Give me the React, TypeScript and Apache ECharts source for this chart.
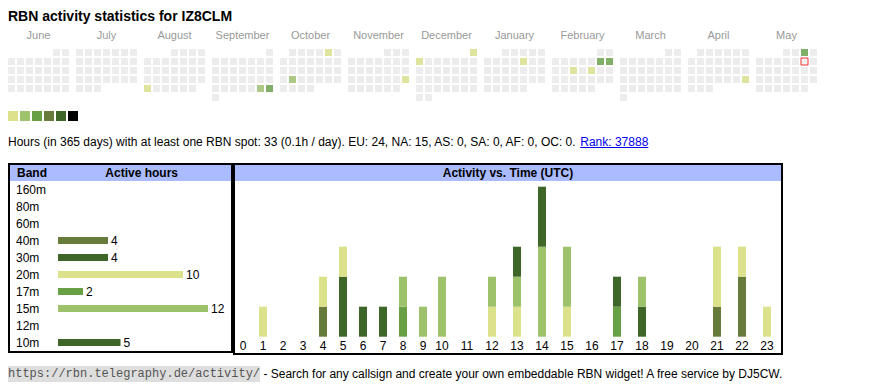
import React, { useEffect, useRef } from "react";
import * as echarts from "echarts";

const FONT = "'Liberation Sans', Arial, Helvetica, sans-serif";
const MONO = "'Liberation Mono', 'Courier New', monospace";

// ---------- calendar ----------
const CALLSIGN = "IZ8CLM";
const MONTH_RANGES = ["2024-06", "2024-07", "2024-08", "2024-09", "2024-10", "2024-11", "2024-12", "2025-01", "2025-02", "2025-03", "2025-04", "2025-05"];
const MONTH_NAMES = ["June", "July", "August", "September", "October", "November", "December", "January", "February", "March", "April", "May"];
const LEVELS = [1, 2, 3, 4, 5, 6];
const LEVEL_COLORS = ["#dbe28b", "#9ec16b", "#68a046", "#677b3b", "#3d6628", "#000000"];
const ACTIVE_DAYS: [string, number][] = [
  ["2024-08-26", 1],
  ["2024-09-28", 2],
  ["2024-09-29", 3],
  ["2024-10-05", 1],
  ["2024-10-22", 2],
  ["2024-11-24", 1],
  ["2024-12-01", 1],
  ["2024-12-02", 1],
  ["2025-01-10", 1],
  ["2025-02-08", 3],
  ["2025-02-09", 3],
  ["2025-02-12", 1],
  ["2025-02-14", 1],
  ["2025-04-27", 1],
  ["2025-05-03", 3],
];
const TODAY = "2025-05-10";

// ---------- summary ----------
const TOTAL_DAYS = 365;
const ACTIVE_HOURS = 33;
const HOURS_PER_DAY = "0.1";
const CONTINENTS = ["EU", "NA", "AS", "SA", "AF", "OC"];
const CONTINENT_HOURS = [24, 15, 0, 0, 0, 0];
const RANK = 37888;

// ---------- bands ----------
const BANDS = ["160m", "80m", "60m", "40m", "30m", "20m", "17m", "15m", "12m", "10m"];
const BAND_HOURS = [0, 0, 0, 4, 4, 10, 2, 12, 0, 5];
const BAND_COLORS = ["#8c564b", "#e377c2", "#7f7f7f", "#677b3b", "#3d6628", "#dbe28b", "#68a046", "#9ec16b", "#bcbd22", "#3d6628"];

// ---------- activity vs time ----------
const HOUR_LABELS = ["0", "1", "2", "3", "4", "5", "6", "7", "8", "9", "10", "11", "12", "13", "14", "15", "16", "17", "18", "19", "20", "21", "22", "23"];
const STACK_BANDS = ["40m", "30m", "20m", "17m", "15m", "10m"];
const H_40M = [0, 0, 0, 0, 1, 0, 0, 0, 0, 0, 0, 0, 0, 0, 0, 0, 0, 0, 0, 0, 0, 1, 2, 0];
const H_30M = [0, 0, 0, 0, 0, 2, 1, 0, 0, 0, 0, 0, 0, 0, 0, 0, 0, 0, 1, 0, 0, 0, 0, 0];
const H_20M = [0, 1, 0, 0, 1, 1, 0, 0, 0, 0, 0, 0, 1, 1, 0, 1, 0, 0, 0, 0, 0, 2, 1, 1];
const H_17M = [0, 0, 0, 0, 0, 0, 0, 0, 1, 0, 0, 0, 0, 0, 0, 0, 0, 1, 0, 0, 0, 0, 0, 0];
const H_15M = [0, 0, 0, 0, 0, 0, 0, 0, 1, 1, 2, 0, 1, 1, 3, 2, 0, 0, 1, 0, 0, 0, 0, 0];
const H_10M = [0, 0, 0, 0, 0, 0, 0, 1, 0, 0, 0, 0, 0, 1, 2, 0, 0, 1, 0, 0, 0, 0, 0, 0];
const HOURLY = [H_40M, H_30M, H_20M, H_17M, H_15M, H_10M];
const NARROW_HOURS = 10; // one-digit hours take narrower table columns

const URL_TEXT = "https://rbn.telegraphy.de/activity/";
const FOOTER_TEXT = "- Search for any callsign and create your own embeddable RBN widget! A free service by DJ5CW.";

function measure(text: string, font: string): number {
  const c = document.createElement("canvas").getContext("2d");
  if (!c) return text.length * 6;
  c.font = font;
  return c.measureText(text).width;
}

export default function App() {
  const ref = useRef<HTMLDivElement>(null);

  useEffect(() => {
    if (!ref.current) return;
    const chart = echarts.init(ref.current, undefined, { renderer: "svg" });

    const mainText =
      `Hours (in ${TOTAL_DAYS} days) with at least one RBN spot: ${ACTIVE_HOURS} (${HOURS_PER_DAY}h / day). ` +
      CONTINENTS.map((c, i) => `${c}: ${CONTINENT_HOURS[i]}`).join(", ") +
      ". ";
    const rankText = `Rank: ${RANK}`;
    const w1 = measure(mainText, `12px ${FONT}`);
    const w2 = measure(rankText, `12px ${FONT}`);
    const wUrl = measure(URL_TEXT, `12px ${MONO}`);
    const wSpace = measure(" ", `12px ${FONT}`);

    const calendars = MONTH_RANGES.map((m, i) => ({
      orient: "vertical",
      range: m,
      left: 7 + 68 * i,
      top: 48,
      cellSize: [9, 9],
      splitLine: { show: false },
      itemStyle: { color: "#ececec", borderColor: "#ffffff", borderWidth: 2 },
      dayLabel: { show: false, firstDay: 1 },
      monthLabel: { show: false },
      yearLabel: { show: false },
      silent: true,
    }));

    const series: any[] = [];
    MONTH_RANGES.forEach((m, i) => {
      series.push({
        type: "scatter",
        coordinateSystem: "calendar",
        calendarIndex: i,
        symbol: "rect",
        symbolSize: 7,
        silent: true,
        data: ACTIVE_DAYS.filter((d) => d[0].startsWith(m)),
      });
    });
    series.push({
      type: "scatter",
      coordinateSystem: "calendar",
      calendarIndex: MONTH_RANGES.indexOf(TODAY.slice(0, 7)),
      symbol: "rect",
      symbolSize: 7,
      silent: true,
      z: 5,
      itemStyle: { color: "#f4f4f4", borderColor: "#ff0000", borderWidth: 1 },
      data: [[TODAY, 0]],
    });
    series.push({
      type: "bar",
      xAxisIndex: 0,
      yAxisIndex: 0,
      barWidth: 7,
      silent: true,
      data: BAND_HOURS.map((v, i) => ({ value: v, itemStyle: { color: BAND_COLORS[i] } })),
      label: {
        show: true,
        position: "right",
        distance: 3,
        fontSize: 12,
        fontFamily: FONT,
        color: "#000",
        formatter: (p: any) => (p.value ? String(p.value) : ""),
      },
    });
    STACK_BANDS.forEach((b, k) => {
      const color = BAND_COLORS[BANDS.indexOf(b)];
      const parts: [number, number, number][] = [
        [0, NARROW_HOURS, 1],
        [NARROW_HOURS, 24, 2],
      ];
      parts.forEach(([s, e, g]) => {
        series.push({
          type: "bar",
          name: b,
          xAxisIndex: g,
          yAxisIndex: g,
          stack: "hours" + g,
          barWidth: 8,
          silent: true,
          itemStyle: { color },
          data: HOURLY[k].slice(s, e),
        });
      });
    });

    const hourAxis = (g: number, data: string[]) => ({
      gridIndex: g,
      type: "category",
      data,
      axisLine: { show: false },
      axisTick: { show: false },
      axisLabel: { interval: 0, fontSize: 12, color: "#000", fontFamily: FONT, margin: 3 },
    });

    const txt = (x: number, y: number, text: string, extra: any = {}) => ({
      type: "text",
      x,
      y,
      silent: true,
      style: {
        text,
        fill: "#000",
        fontSize: 12,
        fontFamily: FONT,
        align: "left",
        verticalAlign: "middle",
        ...extra,
      },
    });

    const graphic: any[] = [
      txt(8, 15.5, `RBN activity statistics for ${CALLSIGN}`, { fontSize: 14, fontWeight: "bold" }),
      ...MONTH_NAMES.map((n, i) => txt(38.5 + 68 * i, 35, n, { fontSize: 11, fill: "#999", align: "center" })),
      txt(8, 142, mainText),
      txt(8 + w1, 142, rankText, { fill: "#0000ee" }),
      {
        type: "line",
        silent: true,
        shape: { x1: 8 + w1, y1: 147.5, x2: 8 + w1 + w2, y2: 147.5 },
        style: { stroke: "#0000ee", lineWidth: 1 },
      },
      { type: "rect", silent: true, shape: { x: 10, y: 165, width: 221, height: 16 }, style: { fill: "#aabbff" } },
      { type: "rect", silent: true, shape: { x: 235, y: 165, width: 546, height: 16 }, style: { fill: "#aabbff" } },
      { type: "rect", silent: true, shape: { x: 9, y: 164, width: 223, height: 188 }, style: { fill: "none", stroke: "#000", lineWidth: 2 } },
      { type: "rect", silent: true, shape: { x: 234, y: 164, width: 548, height: 190 }, style: { fill: "none", stroke: "#000", lineWidth: 2 } },
      txt(17, 173, "Band", { fontWeight: "bold" }),
      txt(141.7, 173, "Active hours", { fontWeight: "bold", align: "center" }),
      txt(508, 173, "Activity vs. Time (UTC)", { fontWeight: "bold", align: "center" }),
      { type: "rect", silent: true, shape: { x: 8, y: 366, width: wUrl, height: 16 }, style: { fill: "#dedede" } },
      txt(8, 374, URL_TEXT, { fontFamily: MONO, fill: "#555" }),
      txt(8 + wUrl + wSpace, 374, FOOTER_TEXT),
    ];

    const option: any = {
      animation: false,
      textStyle: { fontFamily: FONT },
      graphic,
      calendar: calendars,
      visualMap: {
        type: "piecewise",
        orient: "horizontal",
        left: 8,
        top: 111,
        padding: 0,
        itemWidth: 10,
        itemHeight: 10,
        itemGap: 2,
        itemSymbol: "rect",
        showLabel: false,
        selectedMode: false,
        hoverLink: false,
        dimension: 1,
        seriesIndex: MONTH_RANGES.map((_, i) => i),
        pieces: LEVELS.map((v, i) => ({ value: v, color: LEVEL_COLORS[i] })),
      },
      grid: [
        { left: 58, top: 181, width: 150, height: 170 },
        { left: 233, top: 186.7, width: 20 * NARROW_HOURS, height: 150 },
        { left: 429.5, top: 186.7, width: 25 * (24 - NARROW_HOURS), height: 150 },
      ],
      xAxis: [
        { gridIndex: 0, type: "value", min: 0, max: 12, show: false },
        hourAxis(1, HOUR_LABELS.slice(0, NARROW_HOURS)),
        hourAxis(2, HOUR_LABELS.slice(NARROW_HOURS)),
      ],
      yAxis: [
        {
          gridIndex: 0,
          type: "category",
          data: BANDS,
          inverse: true,
          axisLine: { show: false },
          axisTick: { show: false },
          splitLine: { show: false },
          axisLabel: { align: "left", margin: 42, fontSize: 12, color: "#000", fontFamily: FONT },
        },
        { gridIndex: 1, type: "value", min: 0, max: 5, show: false },
        { gridIndex: 2, type: "value", min: 0, max: 5, show: false },
      ],
      series,
    };

    chart.setOption(option);
    return () => chart.dispose();
  }, []);

  return (
    <div
      ref={ref}
      style={{ position: "fixed", left: 0, top: 0, width: 870, height: 390, background: "#fff" }}
    />
  );
}
